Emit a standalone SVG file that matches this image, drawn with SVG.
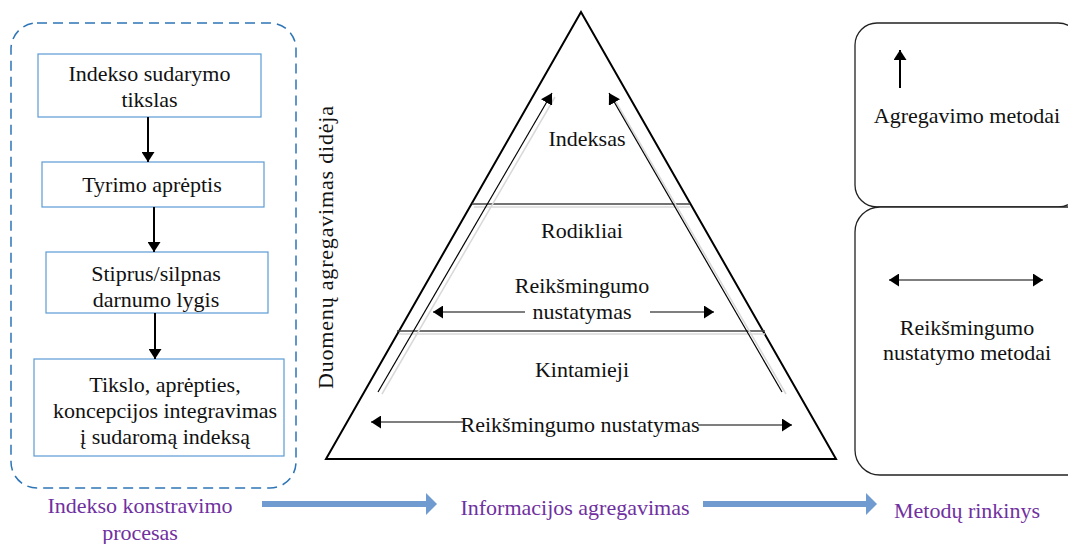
<svg xmlns="http://www.w3.org/2000/svg" width="1068" height="544" viewBox="0 0 1068 544" font-family="'Liberation Serif', 'Times New Roman', Times, serif">
<style>
.t{font-family:'Liberation Serif','Times New Roman',Times,serif;font-size:22px;fill:#111;text-anchor:middle}
.p{fill:#7030A0}
.bx{fill:#fff;stroke:#5B9BD5;stroke-width:1.2}
.rb{fill:#fff;stroke:#222;stroke-width:1.3}
.ln{stroke:#000;stroke-width:2;fill:none}
.thin{stroke:#000;stroke-width:1.2;fill:none}
.sh{stroke:#d8d8d8;stroke-width:1.5;fill:none}
.blue{stroke:#6F9BD1;stroke-width:6;fill:none}
</style>
<defs>
<marker id="ah" viewBox="0 0 10 10" refX="10" refY="5" markerUnits="userSpaceOnUse" markerWidth="10" markerHeight="13" orient="auto-start-reverse" preserveAspectRatio="none">
<path d="M0,0 L10,5 L0,10 z" fill="#000"/>
</marker>
<marker id="ah2" viewBox="0 0 10 10" refX="10" refY="5" markerUnits="userSpaceOnUse" markerWidth="11" markerHeight="13" orient="auto-start-reverse" preserveAspectRatio="none">
<path d="M0,0 L10,5 L0,10 z" fill="#000"/>
</marker>
</defs>
<rect width="1068" height="544" fill="#fff"/>

<g id="process">
<rect x="11" y="23" width="285" height="465" rx="26" fill="none" stroke="#2E75B6" stroke-width="1.5" stroke-dasharray="10 6"/>
<g id="n1"><rect class="bx" x="38" y="54" width="223" height="63"/><text class="t" x="149.5" y="81">Indekso sudarymo</text><text class="t" x="149.5" y="107">tikslas</text></g>
<g id="n2"><rect class="bx" x="42" y="162" width="222" height="45"/><text class="t" x="152" y="192">Tyrimo aprėptis</text></g>
<g id="n3"><rect class="bx" x="46" y="252" width="222" height="61"/><text class="t" x="156" y="281">Stiprus/silpnas</text><text class="t" x="156" y="307">darnumo lygis</text></g>
<g id="n4"><rect class="bx" x="34" y="359" width="250" height="97"/><text class="t" x="165" y="392">Tikslo, aprėpties,</text><text class="t" x="165" y="418">koncepcijos integravimas</text><text class="t" x="165" y="444">į sudaromą indeksą</text></g>
<text class="t p" x="140" y="513">Indekso konstravimo</text>
<text class="t p" x="140" y="540">procesas</text>
</g>

<g id="pyramid">
<polygon points="581,12 326,459 836,459" fill="none" stroke="#000" stroke-width="2"/>
<line class="sh" x1="474" y1="207" x2="690" y2="207"/>
<line x1="472" y1="204" x2="690" y2="204" stroke="#444" stroke-width="1.5"/>
<line class="sh" x1="399" y1="334" x2="765" y2="334"/>
<line x1="397" y1="331" x2="765" y2="331" stroke="#444" stroke-width="1.5"/>
<text class="t" x="587" y="146">Indeksas</text>
<text class="t" x="582" y="238">Rodikliai</text>
<text class="t" x="582" y="293">Reikšmingumo</text>
<text class="t" x="582" y="319">nustatymas</text>
<text class="t" x="582" y="377">Kintamieji</text>
<text class="t" x="580" y="432">Reikšmingumo nustatymas</text>
<text class="t" transform="translate(333,247.5) rotate(-90)" x="0" y="0" textLength="283" lengthAdjust="spacing">Duomenų agregavimas didėja</text>
<text class="t p" x="575" y="515">Informacijos agregavimas</text>
</g>

<g id="methods">
<g id="m1"><rect class="rb" x="855" y="23" width="225" height="184" rx="22"/><text class="t" x="967" y="123">Agregavimo metodai</text></g>
<g id="m2"><rect class="rb" x="855" y="207" width="237" height="268" rx="25"/><text class="t" x="967" y="335">Reikšmingumo</text><text class="t" x="967" y="360">nustatymo metodai</text></g>
<text class="t p" x="967" y="518">Metodų rinkinys</text>
</g>

<g id="connectors">
<line class="ln" x1="148" y1="117" x2="148" y2="162" marker-end="url(#ah)"/>
<line class="ln" x1="154" y1="207" x2="154" y2="252" marker-end="url(#ah)"/>
<line class="ln" x1="155" y1="313" x2="155" y2="359" marker-end="url(#ah)"/>
<line class="sh" x1="382" y1="394" x2="555" y2="97"/>
<line class="thin" x1="378" y1="392" x2="552" y2="93" marker-end="url(#ah2)"/>
<line class="sh" x1="786" y1="394" x2="613" y2="97"/>
<line class="thin" x1="782" y1="392" x2="609" y2="93" marker-end="url(#ah2)"/>
<line class="thin" x1="525" y1="312" x2="433" y2="312" stroke-width="1.5" marker-end="url(#ah)"/>
<line class="thin" x1="650" y1="312" x2="714" y2="312" stroke-width="1.5" marker-end="url(#ah)"/>
<line class="thin" x1="463" y1="422" x2="371" y2="422" stroke-width="1.5" marker-end="url(#ah)"/>
<line class="thin" x1="698" y1="425" x2="792" y2="425" stroke-width="1.5" marker-end="url(#ah)"/>
<line class="ln" x1="900" y1="88" x2="900" y2="50" marker-end="url(#ah)"/>
<line class="thin" x1="889" y1="280" x2="1043" y2="280" stroke-width="1.5" marker-start="url(#ah)" marker-end="url(#ah)"/>
<line class="blue" x1="262" y1="504" x2="428" y2="504"/>
<polygon points="426,493 437,504 426,515" fill="#6F9BD1"/>
<line class="blue" x1="703" y1="504" x2="868" y2="504"/>
<polygon points="866,493 877,504 866,515" fill="#6F9BD1"/>
</g>
</svg>
